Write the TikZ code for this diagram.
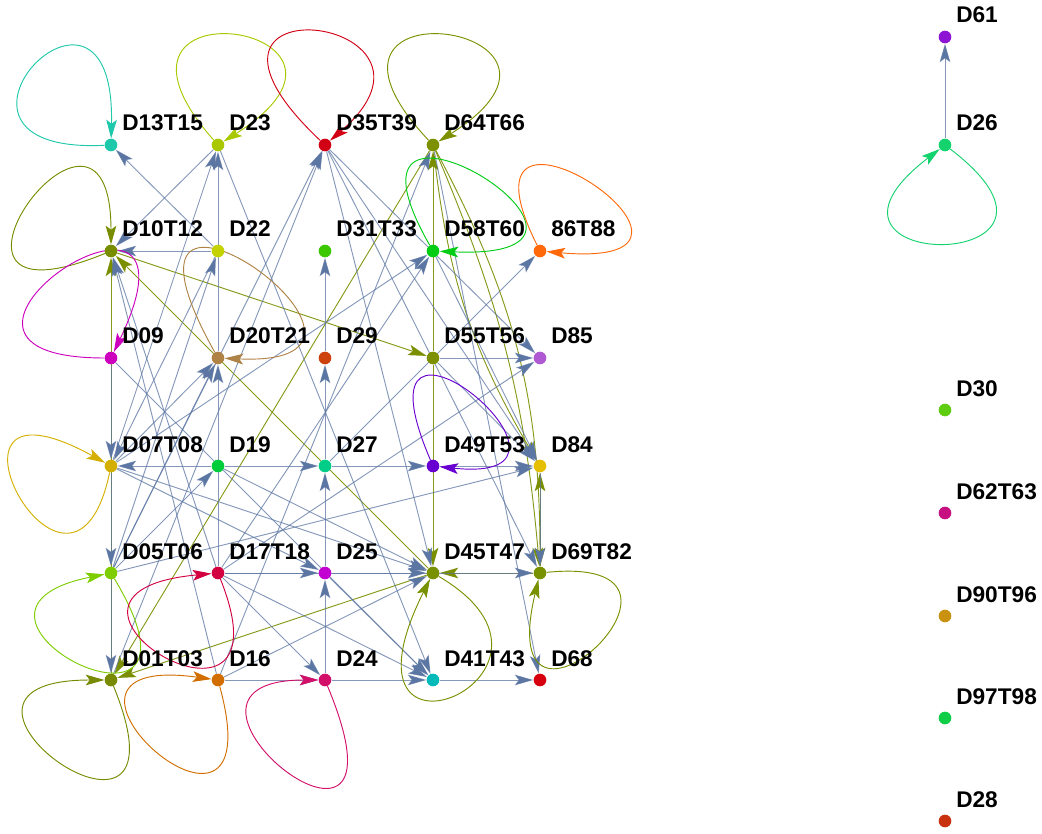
\documentclass[tikz,border=0pt]{standalone}
\usepackage{fontspec}
\setmainfont{Liberation Sans}
\usetikzlibrary{arrows.meta,backgrounds,calc}
\definecolor{eb}{RGB}{92,118,163}
\definecolor{ol}{RGB}{122,142,0}
\definecolor{cD13T15}{RGB}{30,200,170}
\definecolor{cD23}{RGB}{170,200,0}
\definecolor{cD35T39}{RGB}{210,0,20}
\definecolor{cD64T66}{RGB}{125,145,0}
\definecolor{cD10T12}{RGB}{120,140,0}
\definecolor{cD22}{RGB}{195,210,0}
\definecolor{cD31T33}{RGB}{60,200,0}
\definecolor{cD58T60}{RGB}{0,205,20}
\definecolor{cN86T88}{RGB}{255,105,10}
\definecolor{cD09}{RGB}{205,0,190}
\definecolor{cD20T21}{RGB}{175,130,70}
\definecolor{cD29}{RGB}{205,65,15}
\definecolor{cD55T56}{RGB}{125,145,0}
\definecolor{cD85}{RGB}{175,90,210}
\definecolor{cD07T08}{RGB}{212,175,0}
\definecolor{cD19}{RGB}{0,205,60}
\definecolor{cD27}{RGB}{0,205,135}
\definecolor{cD49T53}{RGB}{105,0,210}
\definecolor{cD84}{RGB}{230,190,0}
\definecolor{cD05T06}{RGB}{125,205,0}
\definecolor{cD17T18}{RGB}{210,0,65}
\definecolor{cD25}{RGB}{195,0,210}
\definecolor{cD45T47}{RGB}{120,145,0}
\definecolor{cD69T82}{RGB}{120,145,0}
\definecolor{cD01T03}{RGB}{120,138,0}
\definecolor{cD16}{RGB}{210,110,0}
\definecolor{cD24}{RGB}{210,15,105}
\definecolor{cD41T43}{RGB}{0,185,185}
\definecolor{cD68}{RGB}{215,0,15}
\definecolor{cD61}{RGB}{140,20,210}
\definecolor{cD26}{RGB}{20,210,110}
\definecolor{cD30}{RGB}{95,205,15}
\definecolor{cD62T63}{RGB}{200,15,130}
\definecolor{cD90T96}{RGB}{200,145,15}
\definecolor{cD97T98}{RGB}{15,205,70}
\definecolor{cD28}{RGB}{200,50,15}
\tikzset{
  dot/.style={circle, inner sep=0pt, minimum size=9.5pt, draw=none},
  lab/.style={anchor=base west, font=\bfseries\fontsize{17}{17}\selectfont, inner sep=0pt},
  tip/.style={-{Stealth[length=14pt,width=8pt,inset=3pt]}},
  e/.style={tip, draw=eb, draw opacity=0.75, line width=0.7pt},
  oe/.style={tip, draw=ol, draw opacity=0.9, line width=0.7pt},
  lp/.style={tip, line width=0.7pt},
}
\newcommand\myloop[4]{\draw[lp,#2] (#1) .. controls +(#3) and +(#4) .. (#1);}
\newcommand\vx[3]{\node[dot,fill=c#1] (#1) at (#2,#3) {};}
\newcommand\vl[4]{\node[lab] (L#1) at ($(#2,#3)+(11,-14)$) {#4};}
\begin{document}
\begin{tikzpicture}[x=0.75pt,y=-0.75pt]
\useasboundingbox (0,0) rectangle (1042,834);
% vertices
\vx{D13T15}{111}{145}\vx{D23}{218}{145}\vx{D35T39}{325}{145}\vx{D64T66}{433}{145}
\vx{D10T12}{111}{251}\vx{D22}{218}{251}\vx{D31T33}{325}{251}\vx{D58T60}{433}{251}\vx{N86T88}{540}{251}
\vx{D09}{111}{358}\vx{D20T21}{218}{358}\vx{D29}{325}{358}\vx{D55T56}{433}{358}\vx{D85}{540}{358}
\vx{D07T08}{111}{466}\vx{D19}{218}{466}\vx{D27}{325}{466}\vx{D49T53}{433}{466}\vx{D84}{540}{466}
\vx{D05T06}{111}{573}\vx{D17T18}{218}{573}\vx{D25}{325}{573}\vx{D45T47}{433}{573}\vx{D69T82}{540}{573}
\vx{D01T03}{111}{680}\vx{D16}{218}{680}\vx{D24}{325}{680}\vx{D41T43}{433}{680}\vx{D68}{540}{680}
\vx{D61}{945}{37}\vx{D26}{945}{145}\vx{D30}{945}{410}\vx{D62T63}{945}{513}
\vx{D90T96}{945}{616}\vx{D97T98}{945}{718}\vx{D28}{945}{821}
% labels
\vl{D13T15}{111}{145}{D13T15}\vl{D23}{218}{145}{D23}\vl{D35T39}{325}{145}{D35T39}\vl{D64T66}{433}{145}{D64T66}
\vl{D10T12}{111}{251}{D10T12}\vl{D22}{218}{251}{D22}\vl{D31T33}{325}{251}{D31T33}\vl{D58T60}{433}{251}{D58T60}\vl{N86T88}{540}{251}{86T88}
\vl{D09}{111}{358}{D09}\vl{D20T21}{218}{358}{D20T21}\vl{D29}{325}{358}{D29}\vl{D55T56}{433}{358}{D55T56}\vl{D85}{540}{358}{D85}
\vl{D07T08}{111}{466}{D07T08}\vl{D19}{218}{466}{D19}\vl{D27}{325}{466}{D27}\vl{D49T53}{433}{466}{D49T53}\vl{D84}{540}{466}{D84}
\vl{D05T06}{111}{573}{D05T06}\vl{D17T18}{218}{573}{D17T18}\vl{D25}{325}{573}{D25}\vl{D45T47}{433}{573}{D45T47}\vl{D69T82}{540}{573}{D69T82}
\vl{D01T03}{111}{680}{D01T03}\vl{D16}{218}{680}{D16}\vl{D24}{325}{680}{D24}\vl{D41T43}{433}{680}{D41T43}\vl{D68}{540}{680}{D68}
\vl{D61}{945}{37}{D61}\vl{D26}{945}{145}{D26}\vl{D30}{945}{410}{D30}\vl{D62T63}{945}{513}{D62T63}
\vl{D90T96}{945}{616}{D90T96}\vl{D97T98}{945}{718}{D97T98}\vl{D28}{945}{821}{D28}
\begin{scope}[on background layer]
% olive edges
\foreach \a/\b in {D01T03/D10T12, D64T66/D01T03, D45T47/D01T03, D45T47/D10T12, D10T12/D55T56,
  D55T56/D64T66, D55T56/D45T47, D69T82/D45T47, D69T82/D84}
  \draw[oe] (\a) -- (\b);
\draw[oe] (D64T66) to[bend right=12] (D84);
\draw[oe] (D64T66) to[bend left=14] (D69T82);
\draw[oe] (D64T66) to[bend left=9] (D69T82);
% blue edges
\foreach \a/\b in {D22/D10T12, D22/D13T15, D23/D10T12, D07T08/D23, D22/D07T08, D20T21/D23,
  D23/D41T43, D05T06/D35T39, D01T03/D35T39, D35T39/D45T47, D35T39/D69T82, D35T39/D84,
  D35T39/D85, D16/D64T66, D64T66/D68, D58T60/D84, D55T56/D84, D05T06/D84, D49T53/D84,
  D84/D69T82, D17T18/D25, D25/D45T47, D17T18/D69T82, D24/D25, D25/D27, D27/D29,
  D29/D31T33, D19/D27, D27/D49T53, D19/D07T08, D09/D07T08, D07T08/D05T06, D05T06/D01T03,
  D16/D24, D24/D41T43, D41T43/D68, D55T56/D85, D27/N86T88, D17T18/D85, D17T18/D58T60,
  D17T18/D10T12, D17T18/D24, D17T18/D41T43, D17T18/D20T21, D07T08/D20T21, D05T06/D20T21,
  D05T06/D19, D07T08/D25, D07T08/D45T47, D19/D45T47, D16/D45T47, D25/D41T43, D09/D41T43,
  D16/D10T12, D05T06/D22, D07T08/D58T60, D26/D61}
  \draw[e] (\a) -- (\b);
% self loops
\myloop{D13T15}{cD13T15}{-210,10}{5,-215}
\myloop{D23}{cD23}{-150,-170}{190,-120}
\myloop{D35T39}{cD35T39}{-180,-170}{150,-130}
\myloop{D64T66}{cD64T66}{-160,-170}{190,-120}
\myloop{D10T12}{cD10T12}{-220,90}{0,-210}
\myloop{D09}{cD09}{-240,0}{110,-230}
\myloop{D07T08}{cD07T08}{-40,190}{-200,-110}
\myloop{D05T06}{cD05T06}{120,200}{-200,40}
\myloop{D01T03}{cD01T03}{90,220}{-220,0}
\myloop{D16}{cD16}{60,220}{-220,-30}
\myloop{D17T18}{cD17T18}{80,200}{-220,20}
\myloop{D24}{cD24}{100,240}{-200,0}
\myloop{D45T47}{cD45T47}{170,100}{-110,220}
\myloop{D69T82}{cD69T82}{200,-20}{-50,210}
\myloop{D58T60}{cD58T60}{-120,-210}{240,10}
\myloop{N86T88}{cN86T88}{-100,-200}{230,20}
\myloop{D49T53}{cD49T53}{-90,-210}{190,20}
\myloop{D20T21}{cD20T21}{-140,-250}{230,10}
\myloop{D26}{cD26}{170,130}{-170,130}
\end{scope}
\end{tikzpicture}
\end{document}
